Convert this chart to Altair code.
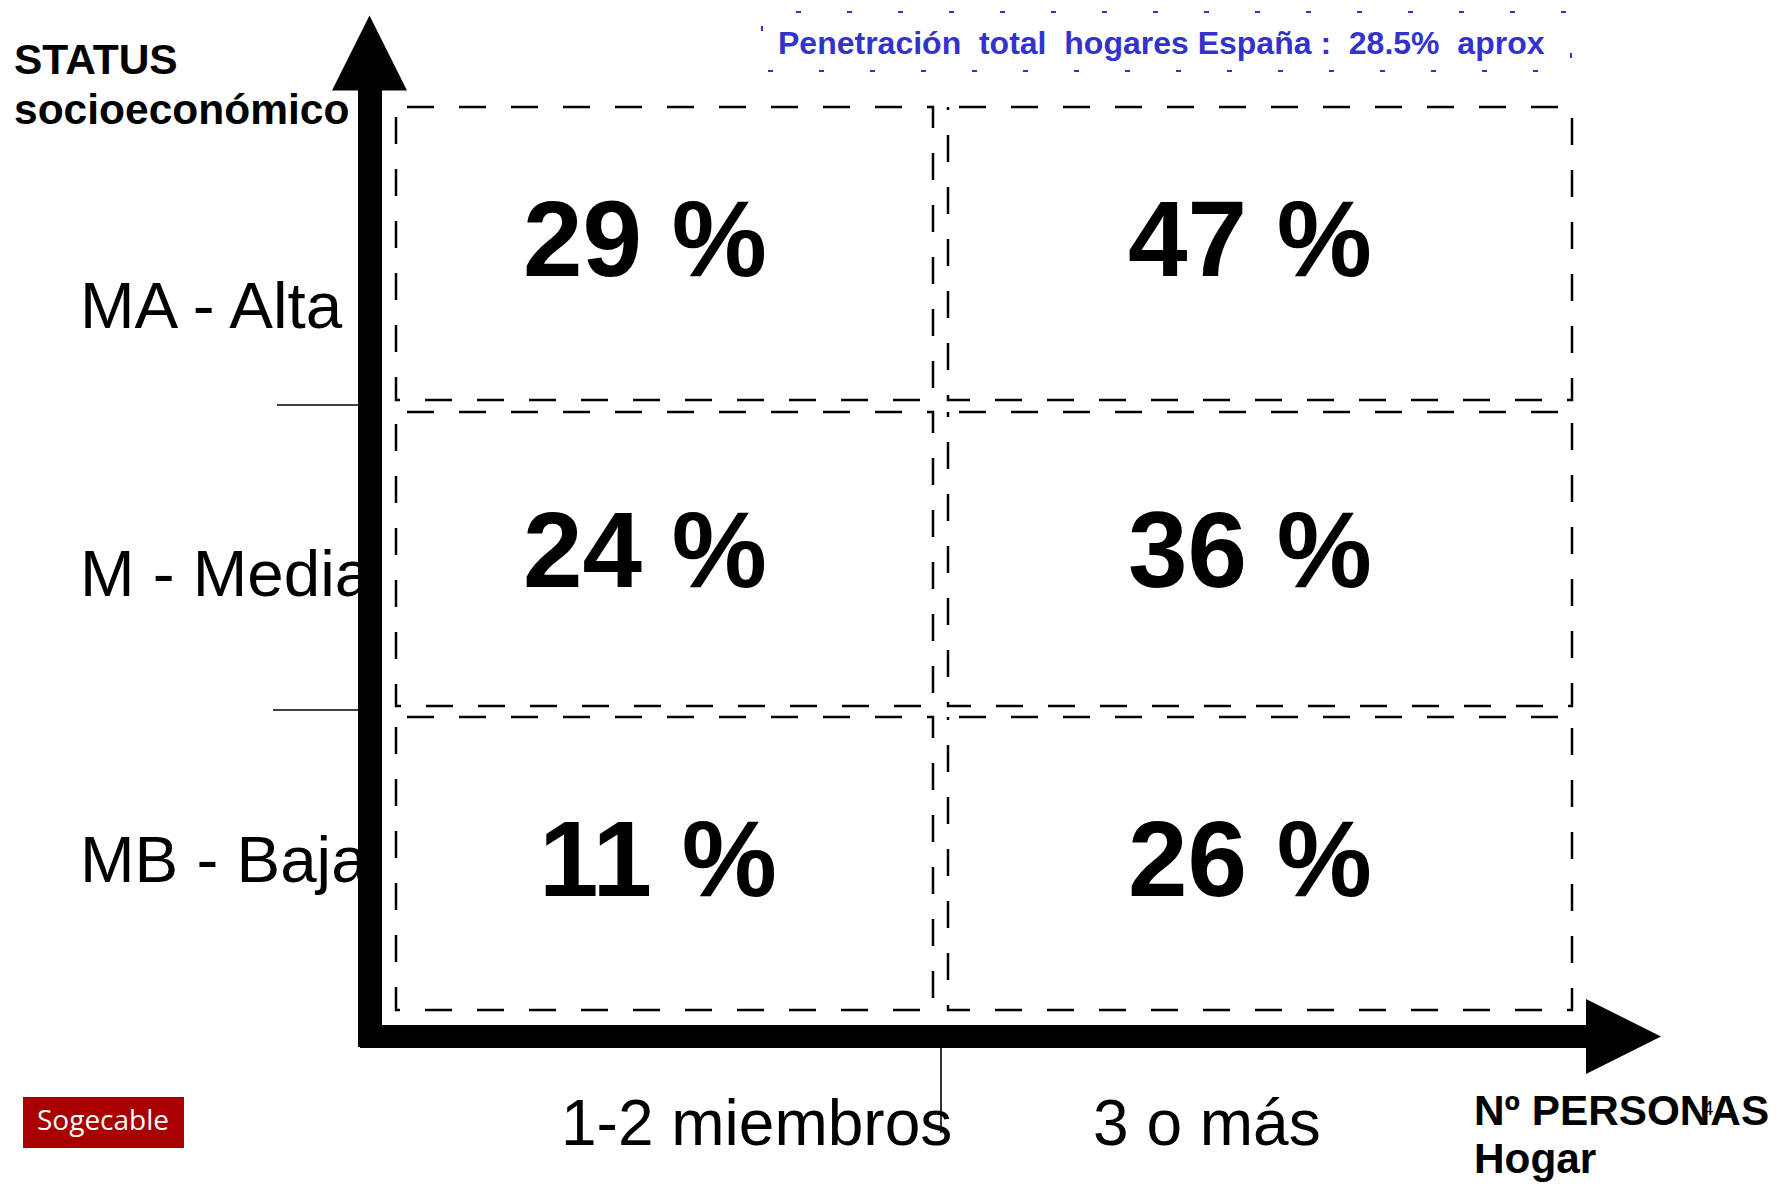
import altair as alt
import pandas as pd

# ---------------- data ----------------
COLS = ["1-2 miembros", "3 o más"]
ROWS = ["MA - Alta", "M - Media", "MB - Baja"]
VALUES = [[29, 47],   # MA - Alta
          [24, 36],   # M - Media
          [11, 26]]   # MB - Baja
Y_TITLE = ["STATUS", "socioeconómico"]
X_TITLE = ["Nº PERSONAS", "Hogar"]
NOTE = "Penetración\u00a0 total\u00a0 hogares España :\u00a0 28.5%\u00a0 aprox"
LOGO = "Sogecable"
PAGE = "4"

# ---------------- layout (page pixel space) ----------------
W, H = 1768, 1175
COL_EDGES = [(396, 933), (948, 1572)]
ROW_EDGES = [(107, 400), (412, 706), (717, 1010)]
LABEL_X = [[645, 1250], [645, 1250], [658, 1250]]
LABEL_BASE = [276, 587, 896]
ROW_LABEL_X = 80
ROW_LABEL_BASE = [328, 596, 882]
COL_LABEL_X = [561, 1093]
COL_LABEL_BASE = 1145

xs = alt.Scale(domain=[8, 8 + W], nice=False, zero=False)
ys = alt.Scale(domain=[8, 8 + H], reverse=True, nice=False, zero=False)


def X(f="x"):
    return alt.X(f"{f}:Q", scale=xs, axis=None)


def Y(f="y"):
    return alt.Y(f"{f}:Q", scale=ys, axis=None)


# cells
cell_rows = []
for r, rname in enumerate(ROWS):
    for c, cname in enumerate(COLS):
        cell_rows.append(dict(
            row=rname, col=cname, value=VALUES[r][c],
            label=f"{VALUES[r][c]} %",
            x=COL_EDGES[c][0], x2=COL_EDGES[c][1],
            y=ROW_EDGES[r][0], y2=ROW_EDGES[r][1],
            lx=LABEL_X[r][c], ly=LABEL_BASE[r],
        ))
cells = pd.DataFrame(cell_rows)

cell_boxes = alt.Chart(cells).mark_rect(
    fill="white", fillOpacity=0, stroke="black", strokeWidth=2.5,
    strokeDash=[27, 25], strokeDashOffset=-11
).encode(x=X(), x2="x2:Q", y=Y(), y2="y2:Q")

cell_labels = alt.Chart(cells).mark_text(
    font="Liberation Sans", fontWeight="bold", fontSize=107,
    align="center", baseline="alphabetic", color="black"
).encode(x=X("lx"), y=Y("ly"), text="label:N")


def text_layer(df, size, weight="normal", color="black", align="left", font="Liberation Sans"):
    return alt.Chart(df).mark_text(
        font=font, fontWeight=weight, fontSize=size, align=align,
        baseline="alphabetic", color=color
    ).encode(x=X(), y=Y(), text="t:N")


row_labels = text_layer(pd.DataFrame(dict(t=ROWS, x=[ROW_LABEL_X] * 3, y=ROW_LABEL_BASE)), 65.5)
col_labels = text_layer(pd.DataFrame(dict(t=COLS, x=COL_LABEL_X, y=[COL_LABEL_BASE] * 2)), 64)
y_title = text_layer(pd.DataFrame(dict(t=Y_TITLE, x=[14, 14], y=[74, 124])), 42.5, "bold")
x_title = text_layer(pd.DataFrame(dict(t=X_TITLE, x=[1474, 1474], y=[1125, 1173])), 42.3, "bold")
page_no = text_layer(pd.DataFrame(dict(t=[PAGE], x=[1708], y=[1115])), 20, align="center")

# note box
note_box = alt.Chart(pd.DataFrame(dict(x=[762], x2=[1571], y=[12], y2=[71]))).mark_rect(
    fill="white", fillOpacity=0, stroke="#3333CC", strokeWidth=2, strokeDash=[5, 46],
    strokeDashOffset=-34
).encode(x=X(), x2="x2:Q", y=Y(), y2="y2:Q")
note_text = text_layer(pd.DataFrame(dict(t=[NOTE], x=[778], y=[54])), 32, "bold", "#3333CC")

# logo
logo_box = alt.Chart(pd.DataFrame(dict(x=[23], x2=[184], y=[1097], y2=[1148]))).mark_rect(
    fill="#A80000"
).encode(x=X(), x2="x2:Q", y=Y(), y2="y2:Q")
logo_text = text_layer(pd.DataFrame(dict(t=[LOGO], x=[37], y=[1130])), 28, color="white", font="Open Sans")

# thin tick rules
ticks = alt.Chart(pd.DataFrame(dict(
    x=[277, 273, 941], x2=[362, 362, 941], y=[405, 710, 1047], y2=[405, 710, 1133]
))).mark_rule(color="black", strokeWidth=1.6).encode(x=X(), x2="x2:Q", y=Y(), y2="y2:Q")

# axis shafts
shafts = alt.Chart(pd.DataFrame(dict(
    x=[358, 360], x2=[382, 1588], y=[88, 1025], y2=[1047, 1048]
))).mark_rect(color="black").encode(x=X(), x2="x2:Q", y=Y(), y2="y2:Q")

# arrow heads
head_up = alt.Chart(pd.DataFrame(dict(x=[369.5], y=[53]))).mark_point(
    shape="M0,-1L1,1L-1,1Z", size=75 * 75, filled=True, color="black", opacity=1
).encode(x=X(), y=Y())
head_right = alt.Chart(pd.DataFrame(dict(x=[1623.5], y=[1036.5]))).mark_point(
    shape="M1,0L-1,1L-1,-1Z", size=75 * 75, filled=True, color="black", opacity=1
).encode(x=X(), y=Y())

chart = alt.layer(
    note_box, note_text, cell_boxes, cell_labels, row_labels, col_labels,
    y_title, x_title, page_no, logo_box, logo_text,
    ticks, shafts, head_up, head_right
).properties(
    width=W, height=H, autosize=alt.AutoSizeParams(type="none"), padding=0,
    background="white"
).configure_view(stroke=None)

chart.save("out.html", embed_options={"renderer": "svg", "actions": False})
